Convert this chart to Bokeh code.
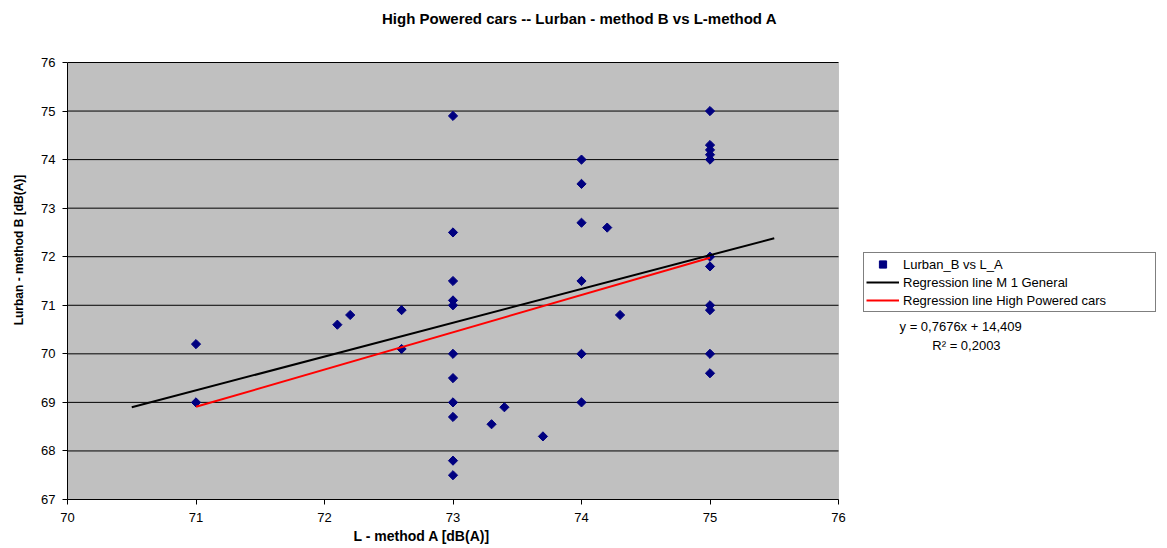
import math
from bokeh.plotting import figure
from bokeh.models import FixedTicker, Legend, LegendItem, Label, Range1d, BoxAnnotation, Title
from bokeh.embed import file_html
from bokeh.resources import INLINE

# ---- data ----
L_A = [71, 71, 72.1, 72.2, 72.6, 72.6,
       73, 73, 73, 73, 73, 73, 73, 73, 73, 73, 73,
       73.3, 73.4, 73.7,
       74, 74, 74, 74, 74, 74,
       74.2, 74.3,
       75, 75, 75, 75, 75, 75, 75, 75, 75, 75, 75]
Lurban_B = [70.2, 69.0, 70.6, 70.8, 70.9, 70.1,
            74.9, 72.5, 71.5, 71.1, 71.0, 70.0, 69.5, 69.0, 68.7, 67.8, 67.5,
            68.55, 68.9, 68.3,
            74.0, 73.5, 72.7, 71.5, 70.0, 69.0,
            72.6, 70.8,
            75.0, 74.3, 74.2, 74.1, 74.0, 72.0, 71.8, 71.0, 70.9, 70.0, 69.6]

general_x = [70.5, 75.5]
general_y = [68.9, 72.38]

hp_slope = 0.7676
hp_intercept = 14.409
hp_x = [71, 75]
hp_y = [hp_slope * v + hp_intercept for v in hp_x]

x_ticks = [70, 71, 72, 73, 74, 75, 76]
y_ticks = [67, 68, 69, 70, 71, 72, 73, 74, 75, 76]

title = "High Powered cars -- Lurban - method B vs L-method A"
x_label = "L - method A [dB(A)]"
y_label = "Lurban - method B [dB(A)]"
eq_text = "y = 0,7676x + 14,409"
r2_text = "R² = 0,2003"
legend_labels = ["Lurban_B vs L_A", "Regression line M 1 General",
                 "Regression line High Powered cars"]

FONT = "Liberation Sans"

# ---- layout (pixels) ----
W, H = 1160, 546
LEFT, BOTTOM = 67, 47
PLOT_W = 771          # width of the grey plot area (70..76)
PLOT_H = 437          # height of the grey plot area (67..76)
PLOT_TOP = 62         # distance of the grey area from the top of the canvas
frame_w = W - LEFT
frame_h = H - BOTTOM
px_x = PLOT_W / (x_ticks[-1] - x_ticks[0])
px_y = PLOT_H / (y_ticks[-1] - y_ticks[0])
x_end = x_ticks[0] + frame_w / px_x
y_end = y_ticks[0] + frame_h / px_y

p = figure(width=W, height=H, output_backend="svg", toolbar_location=None,
           title_location=None,
           x_range=Range1d(x_ticks[0], x_end), y_range=Range1d(y_ticks[0], y_end),
           min_border_left=LEFT, min_border_right=0, min_border_top=0,
           min_border_bottom=BOTTOM)

p.background_fill_color = "white"
p.border_fill_color = "white"
p.outline_line_color = None

# grey plot area limited to the axis extents
p.add_layout(BoxAnnotation(left=x_ticks[0], right=x_ticks[-1], bottom=y_ticks[0],
                           top=y_ticks[-1], fill_color="#C0C0C0", fill_alpha=1,
                           line_color="#808080", line_width=1, level="image"))

p.xgrid.visible = False
p.ygrid.visible = False
p.segment(x0=[x_ticks[0]] * len(y_ticks), x1=[x_ticks[-1]] * len(y_ticks),
          y0=y_ticks, y1=y_ticks, line_color="black", line_width=1, level="underlay")

for ax in (p.xaxis[0], p.yaxis[0]):
    ax.axis_line_color = "black"
    ax.major_tick_line_color = "black"
    ax.minor_tick_line_color = None
    ax.major_tick_out = 5
    ax.major_tick_in = 0
    ax.major_label_text_font = FONT
    ax.major_label_text_font_size = "13px"
    ax.major_label_text_color = "black"
    ax.axis_label_text_font = FONT
    ax.axis_label_text_font_style = "bold"
    ax.axis_label_text_color = "black"

p.xaxis.bounds = (x_ticks[0], x_ticks[-1])
p.yaxis.bounds = (y_ticks[0], y_ticks[-1])
p.xaxis.ticker = FixedTicker(ticks=x_ticks)
p.yaxis.ticker = FixedTicker(ticks=y_ticks)
p.yaxis.axis_label = y_label
p.yaxis.axis_label_text_font_size = "12px"
p.xaxis.major_label_standoff = 8
p.yaxis.major_label_standoff = 7
p.yaxis.axis_label_standoff = 12

# chart title (centred over the whole chart, above the grey area)
title_x = x_ticks[0] + (579 - LEFT) / px_x
title_y = y_ticks[-1] + (PLOT_TOP - 18) / px_y
p.add_layout(Label(x=title_x, y=title_y, text=title, text_font=FONT,
                   text_font_size="15px", text_font_style="bold", text_color="black",
                   text_align="center", text_baseline="middle"))

# x-axis title, positioned as in the original (left of the frame centre)
p.add_layout(Title(text=x_label, text_font=FONT, text_font_size="14px",
                   text_font_style="bold", text_color="black", align="left",
                   offset=286, standoff=2), "below")

r_pts = p.scatter(L_A, Lurban_B, marker="square", size=6.5, angle=math.pi / 4,
                  fill_color="#000080", line_color="#000080")
r_gen = p.line(general_x, general_y, line_color="black", line_width=2)
r_hp = p.line(hp_x, hp_y, line_color="red", line_width=2)

legend = Legend(items=[
    LegendItem(label=legend_labels[0], renderers=[r_pts]),
    LegendItem(label=legend_labels[1], renderers=[r_gen]),
    LegendItem(label=legend_labels[2], renderers=[r_hp]),
], location=(796, 187))
legend.label_text_font = FONT
legend.label_text_font_size = "13px"
legend.label_text_color = "black"
legend.border_line_color = "black"
legend.border_line_width = 1
legend.background_fill_color = "white"
legend.background_fill_alpha = 1
legend.padding = 2
legend.margin = 0
legend.spacing = 0
legend.label_height = 18
legend.glyph_height = 18
legend.glyph_width = 33
legend.label_standoff = 4
legend.label_width = 250
p.add_layout(legend, "center")

eq = Label(x=76.475, y=70.56, text=eq_text, text_font=FONT, text_font_size="13px",
           text_baseline="middle", text_color="black")
r2 = Label(x=76.73, y=70.17, text=r2_text, text_font=FONT, text_font_size="13px",
           text_baseline="middle", text_color="black")
p.add_layout(eq)
p.add_layout(r2)

open("out.html", "w").write(file_html(p, INLINE))
